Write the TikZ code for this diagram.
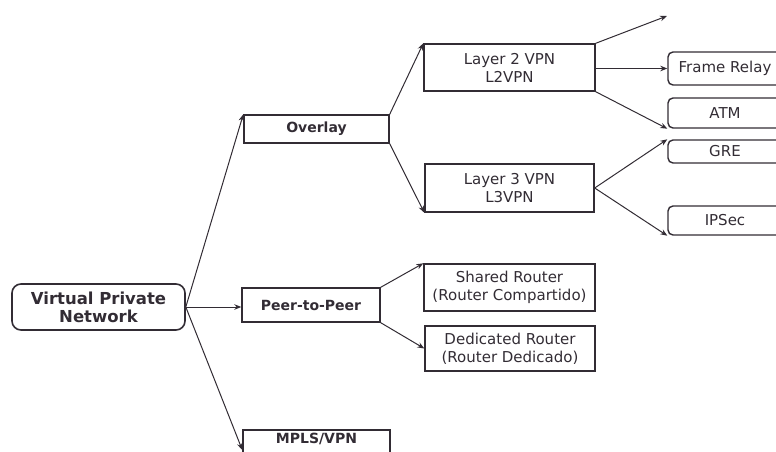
\documentclass[tikz,border=0pt]{standalone}
\usepackage{fontspec}
\setmainfont{DejaVu Sans}
\usetikzlibrary{arrows.meta}
\definecolor{ink}{RGB}{50,44,52}
\tikzset{
 box/.style={draw=ink, line width=1.4pt, text=ink, align=center, inner sep=0pt},
 big/.style={font=\fontsize{16.5}{18}\selectfont\bfseries},
 boldtxt/.style={font=\fontsize{14}{16}\selectfont\bfseries},
 plain/.style={font=\fontsize{15}{18}\selectfont},
 leaf/.style={box, rounded corners=5pt, font=\fontsize{15}{18}\selectfont, minimum width=114pt},
 conn/.style={draw=ink, line width=1pt, -{Stealth[length=7pt,width=5.5pt]}},
}
\begin{document}
\begin{tikzpicture}[x=1pt,y=-1pt]
\useasboundingbox (0,0) rectangle (776,452);
\clip (0,0) rectangle (776,452);
\node[box,big,rounded corners=9pt,line width=1.6pt,minimum width=173pt,minimum height=46pt] (vpn) at (98.5,307) {Virtual Private\\Network};
\node[box,boldtxt,minimum width=145pt,minimum height=28pt] (overlay) at (316.5,129) {Overlay};
\node[box,boldtxt,minimum width=138pt,minimum height=34pt] (p2p) at (311,305) {Peer-to-Peer};
\node[box,boldtxt,minimum width=147pt,minimum height=40pt] (mpls) at (316.5,450) {};
\node[boldtxt,text=ink,anchor=base] (mplstxt) at (316.5,443) {MPLS/VPN};
\node[box,plain,minimum width=171pt,minimum height=47pt] (l2) at (509.5,67.5) {Layer 2 VPN\\L2VPN};
\node[box,plain,minimum width=169pt,minimum height=48pt] (l3) at (509.5,188) {Layer 3 VPN\\L3VPN};
\node[box,plain,minimum width=171pt,minimum height=47pt] (shared) at (509.5,287.5) {Shared Router\\(Router Compartido)};
\node[box,plain,minimum width=170pt,minimum height=45pt] (ded) at (510,348.5) {Dedicated Router\\(Router Dedicado)};
\node[leaf,minimum height=33pt] (frame) at (725,68.5) {Frame Relay};
\node[leaf,minimum height=30pt] (atm) at (725,113) {ATM};
\node[leaf,minimum height=23pt] (gre) at (725,151.5) {GRE};
\node[leaf,minimum height=29pt] (ipsec) at (725,220.5) {IPSec};
\coordinate (topend) at (667,16);
% connectors
\draw[conn] (vpn.east) -- (overlay.north west);
\draw[conn] (vpn.east) -- (vpn.east -| p2p.west);
\draw[conn] (vpn.east) -- (mpls.west);
\draw[conn] (overlay.north east) -- (l2.north west);
\draw[conn] (overlay.south east) -- (l3.south west);
\draw[conn] (l2.north east) -- (topend);
\draw[conn] (l2.east |- frame.west) -- (frame.west);
\draw[conn] (l2.south east) -- (atm.south west);
\draw[conn] (l3.east) -- (gre.north west);
\draw[conn] (l3.east) -- (ipsec.south west);
\draw[conn] (p2p.north east) -- (shared.north west);
\draw[conn] (p2p.south east) -- (ded.west);
\end{tikzpicture}
\end{document}
